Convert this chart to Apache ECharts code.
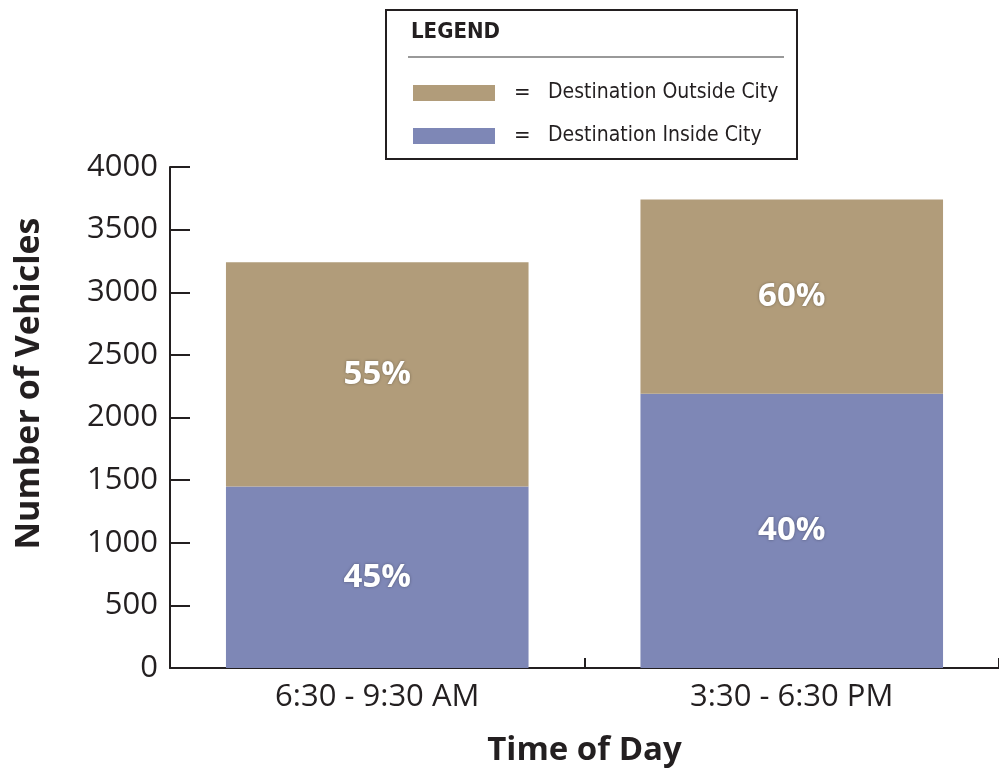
<!DOCTYPE html>
<html>
<head>
<meta charset="utf-8">
<script src="https://cdn.jsdelivr.net/npm/echarts@6/dist/echarts.min.js"></script>
<style>
  html, body { margin: 0; padding: 0; background: #fff; }
  #chart { width: 999px; height: 771px; }
</style>
</head>
<body>
<div id="chart"></div>
<script>
// Time periods on the x axis
const periods = ['6:30 - 9:30 AM', '3:30 - 6:30 PM'];
// Vehicle counts per period, stacked: inside city at the bottom, outside city on top
const insideCity = [1450, 2190];
const outsideCity = [1790, 1550];
// Share labels printed inside each segment
const insideShare = ['45%', '40%'];
const outsideShare = ['55%', '60%'];
// Y axis range
const yMax = 4000;
const yStep = 500;

const seriesNames = ['Destination Inside City', 'Destination Outside City'];
const tan = '#b19c7a';
const blue = '#7e87b6';
const ink = '#231f20';
const tickFont = '"Open Sans", "Noto Sans", sans-serif';
const narrowFont = '"Liberation Sans Narrow", "DejaVu Sans Condensed", "Roboto Condensed", sans-serif';

const segLabel = (shares) => ({
  show: true,
  position: 'inside',
  formatter: (p) => shares[p.dataIndex],
  color: '#fff',
  fontFamily: tickFont,
  fontWeight: 'bold',
  fontSize: 33,
  textShadowColor: 'rgba(0,0,0,0.35)',
  textShadowBlur: 3
});

const chart = echarts.init(document.getElementById('chart'), null, { renderer: 'canvas' });

chart.setOption({
  backgroundColor: '#fff',
  animation: false,
  grid: { left: 170, right: 0, top: 167, bottom: 103, containLabel: false, outerBoundsMode: 'none' },
  legend: {
    data: [seriesNames[1], seriesNames[0]],
    orient: 'vertical',
    left: 413,
    top: 82,
    padding: 0,
    itemWidth: 82,
    itemHeight: 16,
    itemGap: 21,
    icon: 'rect',
    selectedMode: false,
    formatter: (name) => '{eq|=}{t|' + name + '}',
    textStyle: {
      rich: {
        eq: { width: 34, padding: [0, 0, 0, 14], fontSize: 22, fontFamily: narrowFont, color: ink, lineHeight: 24 },
        t: { fontSize: 21, fontFamily: narrowFont, color: ink, lineHeight: 24 }
      }
    }
  },
  xAxis: {
    type: 'category',
    data: periods,
    name: 'Time of Day',
    nameLocation: 'middle',
    nameGap: 66,
    nameTextStyle: { fontFamily: tickFont, fontWeight: 'bold', fontSize: 33, color: ink },
    axisLine: { lineStyle: { color: ink, width: 2 } },
    axisTick: { show: true, inside: true, length: 10, lineStyle: { color: ink, width: 2 } },
    axisLabel: { fontFamily: tickFont, fontSize: 31, color: ink, margin: 14 }
  },
  yAxis: {
    type: 'value',
    min: 0,
    max: yMax,
    interval: yStep,
    name: 'Number of Vehicles',
    nameLocation: 'middle',
    nameGap: 124,
    nameTextStyle: { fontFamily: tickFont, fontWeight: 'bold', fontSize: 34, color: ink, padding: [0, 0, 0, 68] },
    axisLine: { show: true, lineStyle: { color: ink, width: 2 } },
    axisTick: { show: true, inside: true, length: 20, lineStyle: { color: ink, width: 2 } },
    axisLabel: { fontFamily: tickFont, fontSize: 31, color: ink, margin: 12, formatter: (v) => String(v) },
    splitLine: { show: false }
  },
  series: [
    {
      name: seriesNames[0],
      type: 'bar',
      stack: 'total',
      barWidth: '73%',
      data: insideCity,
      itemStyle: { color: blue },
      label: segLabel(insideShare)
    },
    {
      name: seriesNames[1],
      type: 'bar',
      stack: 'total',
      barWidth: '73%',
      data: outsideCity,
      itemStyle: { color: tan },
      label: segLabel(outsideShare)
    }
  ],
  graphic: [
    {
      type: 'rect',
      shape: { x: 386, y: 10, width: 411, height: 149 },
      style: { fill: '#fff', stroke: ink, lineWidth: 2 },
      z: -1
    },
    {
      type: 'text',
      left: 411,
      top: 21,
      style: { text: 'LEGEND', font: 'bold 22px ' + narrowFont, fill: ink }
    },
    {
      type: 'line',
      shape: { x1: 408, y1: 57, x2: 784, y2: 57 },
      style: { stroke: '#777', lineWidth: 1.5 }
    }
  ]
});
</script>
</body>
</html>
